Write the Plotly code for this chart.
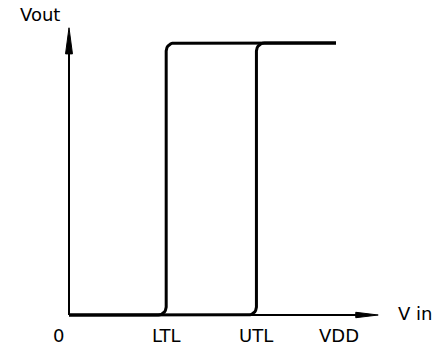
import numpy as np
import plotly.graph_objects as go

# Schmitt-trigger transfer characteristic (hysteresis), volts
VDD = 5.0
LTL = 1.82          # lower threshold level
UTL = 3.51          # upper threshold level
VOUT_LOW = 0.0
VOUT_HIGH = 5.0

# axis extents (where the arrow tips sit)
X_AXIS_END = 5.79
Y_AXIS_END = 5.28

tick_labels = ["0", "LTL", "UTL", "VDD"]
tick_positions = [-0.19, LTL, UTL, VDD + 0.05]

# corner rounding of the switching edges
RX, RY = 0.15, 0.147


def arc(cx, cy, a0, a1, n=8):
    t = np.radians(np.linspace(a0, a1, n))
    return list(cx + RX * np.cos(t)), list(cy + RY * np.sin(t))


# rising input: stays low until UTL, then switches high
rx1, ry1 = arc(UTL - RX, VOUT_LOW + RY, -90, 0)
rx2, ry2 = arc(UTL + RX, VOUT_HIGH - RY, 180, 90)
rise_x = [0.0] + rx1 + rx2 + [VDD]
rise_y = [VOUT_LOW] + ry1 + ry2 + [VOUT_HIGH]

# falling input: stays high until LTL, then switches low
fx1, fy1 = arc(LTL + RX, VOUT_HIGH - RY, 90, 180)
fx2, fy2 = arc(LTL - RX, VOUT_LOW + RY, 0, -90)
fall_x = [VDD] + fx1 + fx2 + [0.0]
fall_y = [VOUT_HIGH] + fy1 + fy2 + [VOUT_LOW]

fig = go.Figure()

# axes
fig.add_trace(go.Scatter(x=[0, X_AXIS_END - 0.3], y=[0, 0], mode="lines",
                         line=dict(color="black", width=2), hoverinfo="skip"))
fig.add_trace(go.Scatter(x=[0, 0], y=[0, Y_AXIS_END - 0.4], mode="lines",
                         line=dict(color="black", width=2), hoverinfo="skip"))
# arrow heads
fig.add_trace(go.Scatter(x=[X_AXIS_END - 0.42, X_AXIS_END, X_AXIS_END - 0.42, X_AXIS_END - 0.42],
                         y=[0.05, 0, -0.05, 0.05], mode="lines", fill="toself",
                         fillcolor="black", line=dict(color="black", width=1), hoverinfo="skip"))
fig.add_trace(go.Scatter(x=[-0.065, 0, 0.065, -0.065],
                         y=[Y_AXIS_END - 0.48, Y_AXIS_END, Y_AXIS_END - 0.48, Y_AXIS_END - 0.48],
                         mode="lines", fill="toself",
                         fillcolor="black", line=dict(color="black", width=1), hoverinfo="skip"))

# hysteresis curve
for xs, ys in [(rise_x, rise_y), (fall_x, fall_y)]:
    fig.add_trace(go.Scatter(x=xs, y=ys, mode="lines",
                             line=dict(color="black", width=3), hoverinfo="skip"))

font = dict(family="DejaVu Sans, sans-serif", size=18, color="black")

for pos, lab in zip(tick_positions, tick_labels):
    fig.add_annotation(x=pos, y=-0.37, text=lab, showarrow=False, font=font,
                       xanchor="center", yanchor="middle")

fig.add_annotation(x=6.48, y=0.03, text="V in", showarrow=False, font=font,
                   xanchor="center", yanchor="middle")
fig.add_annotation(x=-0.54, y=5.515, text="Vout", showarrow=False, font=font,
                   xanchor="center", yanchor="middle")

fig.update_layout(
    width=442, height=346,
    margin=dict(l=0, r=0, t=0, b=0),
    paper_bgcolor="white", plot_bgcolor="white",
    showlegend=False,
    xaxis=dict(range=[-1.2921, 6.985], visible=False, fixedrange=True),
    yaxis=dict(range=[-0.5699, 5.7904], visible=False, fixedrange=True),
)

fig.write_html("out.html", config={"displayModeBar": False})
